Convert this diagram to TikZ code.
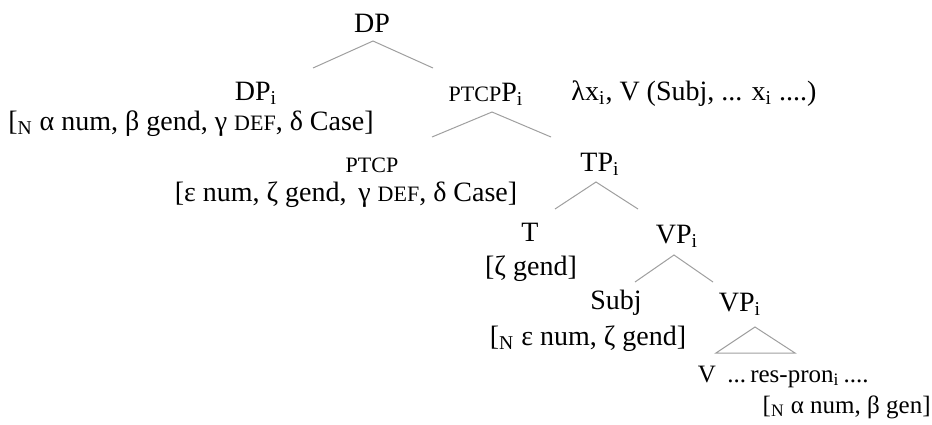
\documentclass[tikz,border=0pt]{standalone}
\usepackage{fontspec}
\setmainfont{Liberation Serif}
\usetikzlibrary{positioning}
\newcommand{\smc}[1]{{\fontsize{11}{12}\selectfont #1}}
\newcommand{\sub}[1]{\textsubscript{#1}}

\begin{document}
\begin{tikzpicture}[x=0.5pt,y=-0.5pt,
  lbl/.style={anchor=base,inner sep=0pt,font=\fontsize{14}{16}\selectfont},
  lblsmall/.style={lbl,font=\fontsize{12.5}{14}\selectfont},
  branch/.style={draw=gray!75,line width=.5pt}]
\useasboundingbox (0,0) rectangle (932,424);

% labels
\node[lbl] (dp)      at (372,32)  {DP};
\node[lbl] (dpi)     at (256,100) {DP\sub{i}};
\node[lbl] (dpf)     at (191,130) {[\sub{N} α num, β gend, γ \smc{DEF}, δ Case]};
\node[lbl] (ptcpp)   at (486,101) {\smc{PTCP}P\sub{i}};
\node[lbl] (lam)     at (694,100) {λx\sub{i}, V (Subj, ... x\sub{i} ....)};
\node[lbl] (ptcp)    at (372,172) {\smc{PTCP}};
\node[lbl] (ptcpf)   at (346,201) {[ε num, ζ gend,\, γ \smc{DEF}, δ Case]};
\node[lbl] (tp)      at (600,171) {TP\sub{i}};
\node[lbl] (t)       at (530,241) {T};
\node[lbl] (tf)      at (531,275) {[ζ gend]};
\node[lbl] (vp)      at (677,243) {VP\sub{i}};
\node[lbl] (subj)    at (616,309) {Subj};
\node[lbl] (subjf)   at (588,345) {[\sub{N} ε num, ζ gend]};
\node[lbl] (vpl)     at (740,311) {VP\sub{i}};
\node[lblsmall] (v)     at (707,382) {V};
\node[lblsmall] (pron)  at (798,382) {...\,res-pron\sub{i}\,....};
\node[lblsmall,anchor=base east] (pronf) at (931,413) {[\sub{N} α num, β gen]};

% branches
\coordinate (dp-top) at (373,41);
\coordinate (dp-l)   at (313,68);
\coordinate (dp-r)   at (433,68);
\draw[branch] (dp-l) -- (dp-top) -- (dp-r);

\coordinate (ptcpp-top) at (492,112);
\coordinate (ptcpp-l)   at (432,137);
\coordinate (ptcpp-r)   at (551,137);
\draw[branch] (ptcpp-l) -- (ptcpp-top) -- (ptcpp-r);

\coordinate (tp-top) at (596,182);
\coordinate (tp-l)   at (555,209);
\coordinate (tp-r)   at (638,209);
\draw[branch] (tp-l) -- (tp-top) -- (tp-r);

\coordinate (vp-top) at (674,255);
\coordinate (vp-l)   at (635,282);
\coordinate (vp-r)   at (713,282);
\draw[branch] (vp-l) -- (vp-top) -- (vp-r);

\coordinate (vpl-top) at (755,327);
\coordinate (vpl-l)   at (716,353);
\coordinate (vpl-r)   at (795,353);
\draw[branch] (vpl-l) -- (vpl-top) -- (vpl-r) -- cycle;

\end{tikzpicture}
\end{document}
